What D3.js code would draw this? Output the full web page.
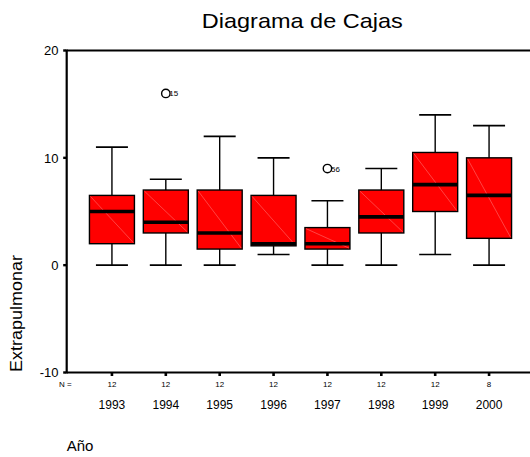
<!DOCTYPE html>
<html>
<head>
<meta charset="utf-8">
<script src="https://cdn.jsdelivr.net/npm/d3@7"></script>
<style>
  body { margin: 0; background: #fff; }
  text { font-family: Arial, "Liberation Sans", sans-serif; fill: #000; }
</style>
</head>
<body>
<div id="chart"></div>
<script>
// data
var years = ["1993", "1994", "1995", "1996", "1997", "1998", "1999", "2000"];
var nCounts = [12, 12, 12, 12, 12, 12, 12, 8];
var whiskerLow = [0, 0, 0, 1, 0, 0, 1, 0];
var q1 = [2, 3, 1.5, 1.8, 1.5, 3, 5, 2.5];
var medians = [5, 4, 3, 2, 2, 4.5, 7.5, 6.5];
var q3 = [6.5, 7, 7, 6.5, 3.5, 7, 10.5, 10];
var whiskerHigh = [11, 8, 12, 10, 6, 9, 14, 13];
var outlierYears = ["1994", "1997"];
var outlierValues = [16, 9];
var outlierIds = ["15", "56"];
var yTicks = [-10, 0, 10, 20];

var W = 530, H = 457;
var svg = d3.select("#chart").append("svg")
  .attr("width", W)
  .attr("height", H);

var axisX = 66.7, plotTop = 50.5, plotBottom = 372.5;

var x = d3.scaleBand()
  .domain(years)
  .range([85, 516])
  .paddingInner(0.165)
  .paddingOuter(0.0825);

var y = d3.scaleLinear()
  .domain([-10, 20])
  .range([plotBottom, plotTop]);

var boxes = years.map(function (yr, i) {
  return { year: yr, lo: whiskerLow[i], q1: q1[i], med: medians[i], q3: q3[i], hi: whiskerHigh[i], n: nCounts[i] };
});

// title
svg.append("text")
  .attr("x", 302.3)
  .attr("y", 28)
  .attr("text-anchor", "middle")
  .attr("font-size", 21)
  .attr("textLength", 201)
  .attr("lengthAdjust", "spacingAndGlyphs")
  .text("Diagrama de Cajas");

// frame lines: left axis, top, bottom
svg.append("line").attr("x1", axisX).attr("x2", axisX).attr("y1", plotTop - 1).attr("y2", plotBottom + 1)
  .attr("stroke", "#000").attr("stroke-width", 2.2);
svg.append("line").attr("x1", axisX).attr("x2", W).attr("y1", plotTop).attr("y2", plotTop)
  .attr("stroke", "#000").attr("stroke-width", 2);
svg.append("line").attr("x1", axisX).attr("x2", W).attr("y1", plotBottom).attr("y2", plotBottom)
  .attr("stroke", "#000").attr("stroke-width", 2);

// y ticks
var yt = svg.append("g").selectAll("g").data(yTicks).enter().append("g");
yt.append("rect")
  .attr("x", axisX - 3.5).attr("y", function (d) { return y(d) - 1.2; })
  .attr("width", 3).attr("height", 2.4).attr("fill", "#000");
yt.append("text")
  .attr("x", 58.5).attr("y", function (d) { return y(d); })
  .attr("dy", "0.36em")
  .attr("text-anchor", "end")
  .attr("font-size", 13)
  .text(function (d) { return d; });

// x ticks
svg.append("g").selectAll("rect").data(years).enter().append("rect")
  .attr("x", function (d) { return x(d) + x.bandwidth() / 2 - 1.3; })
  .attr("y", plotBottom + 0.5).attr("width", 2.6).attr("height", 3)
  .attr("fill", "#000");

// y label
svg.append("text")
  .attr("transform", "translate(22,313.5) rotate(-90)")
  .attr("text-anchor", "middle")
  .attr("font-size", 16)
  .attr("textLength", 117)
  .attr("lengthAdjust", "spacingAndGlyphs")
  .text("Extrapulmonar");

// boxes
var capW = 32;
var g = svg.append("g").selectAll("g").data(boxes).enter().append("g");

function cx(d) { return x(d.year) + x.bandwidth() / 2; }

g.append("line")
  .attr("x1", cx).attr("x2", cx)
  .attr("y1", function (d) { return y(d.hi); })
  .attr("y2", function (d) { return y(d.lo); })
  .attr("stroke", "#000").attr("stroke-width", 1.4);
g.append("line")
  .attr("x1", function (d) { return cx(d) - capW / 2; })
  .attr("x2", function (d) { return cx(d) + capW / 2; })
  .attr("y1", function (d) { return y(d.hi); })
  .attr("y2", function (d) { return y(d.hi); })
  .attr("stroke", "#000").attr("stroke-width", 1.6);
g.append("line")
  .attr("x1", function (d) { return cx(d) - capW / 2; })
  .attr("x2", function (d) { return cx(d) + capW / 2; })
  .attr("y1", function (d) { return y(d.lo); })
  .attr("y2", function (d) { return y(d.lo); })
  .attr("stroke", "#000").attr("stroke-width", 1.6);
g.append("rect")
  .attr("x", function (d) { return x(d.year); })
  .attr("y", function (d) { return y(d.q3); })
  .attr("width", x.bandwidth())
  .attr("height", function (d) { return y(d.q1) - y(d.q3); })
  .attr("fill", "#ff0000")
  .attr("stroke", "#000").attr("stroke-width", 1.4);
// faint diagonal seen inside each box
g.append("line")
  .attr("x1", function (d) { return x(d.year) + 1; })
  .attr("x2", function (d) { return x(d.year) + x.bandwidth() - 1; })
  .attr("y1", function (d) { return y(d.q3) + 1; })
  .attr("y2", function (d) { return y(d.q1) - 1; })
  .attr("stroke", "#ff7070").attr("stroke-width", 0.6);
g.append("line")
  .attr("x1", function (d) { return x(d.year); })
  .attr("x2", function (d) { return x(d.year) + x.bandwidth(); })
  .attr("y1", function (d) { return y(d.med); })
  .attr("y2", function (d) { return y(d.med); })
  .attr("stroke", "#000").attr("stroke-width", 3.6);

// N row
svg.append("text")
  .attr("x", 59).attr("y", 387)
  .attr("font-size", 8)
  .text("N =");
g.append("text")
  .attr("x", cx).attr("y", 387)
  .attr("text-anchor", "middle")
  .attr("font-size", 8)
  .text(function (d) { return d.n; });

// year labels
g.append("text")
  .attr("x", cx).attr("y", 409)
  .attr("text-anchor", "middle")
  .attr("font-size", 12)
  .text(function (d) { return d.year; });

// outliers
var out = svg.append("g").selectAll("g").data(outlierYears).enter().append("g");
out.append("circle")
  .attr("cx", function (d) { return x(d) + x.bandwidth() / 2; })
  .attr("cy", function (d, i) { return y(outlierValues[i]); })
  .attr("r", 4.2)
  .attr("fill", "#fff")
  .attr("stroke", "#000").attr("stroke-width", 1.4);
out.append("text")
  .attr("x", function (d) { return x(d) + x.bandwidth() / 2 + 3.5; })
  .attr("y", function (d, i) { return y(outlierValues[i]) + 3; })
  .attr("font-size", 8)
  .text(function (d, i) { return outlierIds[i]; });

// x label
svg.append("text")
  .attr("x", 66.7).attr("y", 451)
  .attr("font-size", 15)
  .text("Año");
</script>
</body>
</html>
